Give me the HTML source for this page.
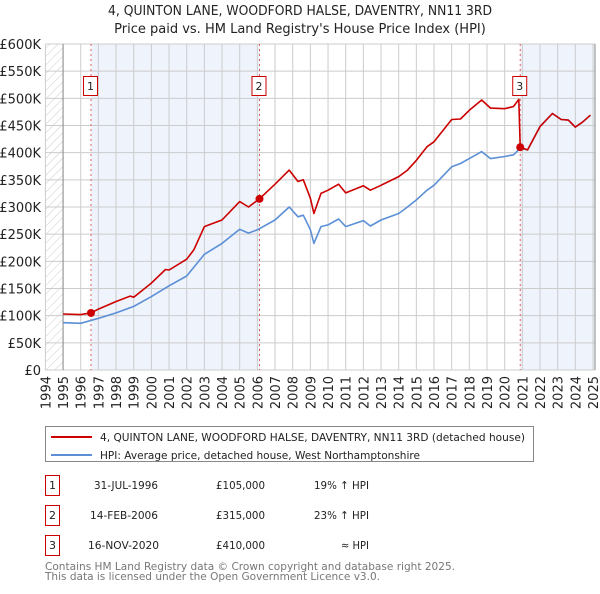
<!DOCTYPE html>
<html><head><meta charset="utf-8">
<style>
body{margin:0;background:#fff;font-family:"DejaVu Sans","Liberation Sans",sans-serif;}
svg text{font-family:"DejaVu Sans","Liberation Sans",sans-serif;}
</style></head>
<body>
<svg id="chart" width="600" height="590" xmlns="http://www.w3.org/2000/svg">
<defs>
<pattern id="hatch" patternUnits="userSpaceOnUse" width="6" height="6" patternTransform="rotate(45)">
<line x1="0" y1="0" x2="0" y2="6" stroke="#ccc" stroke-width="1"/>
</pattern>
</defs>
<text x="108" y="15" font-size="13" fill="#222" textLength="384" lengthAdjust="spacingAndGlyphs">4, QUINTON LANE, WOODFORD HALSE, DAVENTRY, NN11 3RD</text>
<text x="300" y="33" text-anchor="middle" font-size="13" fill="#222">Price paid vs. HM Land Registry's House Price Index (HPI)</text>
<g id="plot"></g>
<g>
<rect x="45.5" y="426.5" width="488" height="35" fill="#fff" stroke="#888"/>
<line x1="51" y1="437" x2="92" y2="437" stroke="#cc0000" stroke-width="2"/>
<text x="100" y="441" font-size="11" fill="#222" textLength="425" lengthAdjust="spacingAndGlyphs">4, QUINTON LANE, WOODFORD HALSE, DAVENTRY, NN11 3RD (detached house)</text>
<line x1="51" y1="455" x2="92" y2="455" stroke="#5b8fd6" stroke-width="2"/>
<text x="100" y="459" font-size="11" fill="#222" textLength="320" lengthAdjust="spacingAndGlyphs">HPI: Average price, detached house, West Northamptonshire</text>
</g>
<g font-size="11" fill="#222">
<rect x="45.5" y="475.5" width="14" height="20" fill="#fff" stroke="#cc0000"/><text x="52.5" y="489" text-anchor="middle">1</text>
<text x="94" y="489" textLength="64" lengthAdjust="spacingAndGlyphs">31-JUL-1996</text><text x="216" y="489" textLength="49" lengthAdjust="spacingAndGlyphs">£105,000</text><text x="314" y="489" textLength="55" lengthAdjust="spacingAndGlyphs">19% ↑ HPI</text>
<rect x="45.5" y="505.5" width="14" height="20" fill="#fff" stroke="#cc0000"/><text x="52.5" y="519" text-anchor="middle">2</text>
<text x="90" y="519" textLength="68" lengthAdjust="spacingAndGlyphs">14-FEB-2006</text><text x="216" y="519" textLength="49" lengthAdjust="spacingAndGlyphs">£315,000</text><text x="314" y="519" textLength="55" lengthAdjust="spacingAndGlyphs">23% ↑ HPI</text>
<rect x="45.5" y="535.5" width="14" height="20" fill="#fff" stroke="#cc0000"/><text x="52.5" y="549" text-anchor="middle">3</text>
<text x="88" y="549" textLength="71" lengthAdjust="spacingAndGlyphs">16-NOV-2020</text><text x="216" y="549" textLength="49" lengthAdjust="spacingAndGlyphs">£410,000</text><text x="341" y="549" textLength="28" lengthAdjust="spacingAndGlyphs">≈ HPI</text>
</g>
<text x="45" y="570" font-size="11" fill="#777" textLength="410" lengthAdjust="spacingAndGlyphs">Contains HM Land Registry data © Crown copyright and database right 2025.</text>
<text x="45" y="580" font-size="11" fill="#777" textLength="335" lengthAdjust="spacingAndGlyphs">This data is licensed under the Open Government Licence v3.0.</text>
</svg>
<script>
const hpiYears=[1995,1996,1997,1998,1999,2000,2001,2002,2003,2004,2005,2005.5,2006,2007,2007.8,2008.3,2008.6,2009,2009.2,2009.6,2010,2010.6,2011,2012,2012.4,2013,2014,2014.5,2015,2015.6,2016,2017,2017.5,2018,2018.7,2019.2,2020,2020.5,2020.88,2021.3,2022,2022.7,2023.2,2023.6,2024,2024.4,2024.85];
const hpiValues=[87,86,95,105,117,135,155,173,213,233,259,252,258,276,300,282,285,258,233,264,267,278,264,275,265,276,288,300,313,331,340,374,380,389,402,389,393,396,408,405,448,472,461,460,447,456,469];
const redYears=[1995,1996,1996.58,1997,1998,1998.8,1999,2000,2000.8,2001,2002,2002.4,2003,2003.5,2004,2005,2005.5,2006.12,2007,2007.8,2008.3,2008.6,2009,2009.2,2009.6,2010,2010.6,2011,2012,2012.4,2013,2014,2014.5,2015,2015.6,2016,2017,2017.5,2018,2018.7,2019.2,2020,2020.5,2020.8,2020.88,2021.3,2022,2022.7,2023.2,2023.6,2024,2024.4,2024.85];
const redValues=[103,102,105,112,126,136,134,160,185,184,204,221,264,270,276,310,300,315,342,368,347,350,316,288,325,331,342,326,339,331,340,356,368,386,411,420,461,462,478,497,482,481,485,498,410,405,448,472,461,460,447,456,469];
const saleYears=[1996.58,2006.12,2020.88];
const salePrices=[105,315,410];
const saleLabels=["1","2","3"];
const yTicks=[0,50,100,150,200,250,300,350,400,450,500,550,600];
const yTickLabels=["£0","£50K","£100K","£150K","£200K","£250K","£300K","£350K","£400K","£450K","£500K","£550K","£600K"];
const xTicks=[1994,1995,1996,1997,1998,1999,2000,2001,2002,2003,2004,2005,2006,2007,2008,2009,2010,2011,2012,2013,2014,2015,2016,2017,2018,2019,2020,2021,2022,2023,2024,2025];

const NS="http://www.w3.org/2000/svg";
const X0=45.4,X1=593,Y0=370,Y1=44;
const xs=y=>X0+(y-1994)/(2025-1994)*(X1-X0);
const ys=v=>Y0-(v/600)*(Y0-Y1);
const plot=document.getElementById('plot');
function mk(t,a,p){const e=document.createElementNS(NS,t);for(const k in a)e.setAttribute(k,a[k]);(p||plot).appendChild(e);return e;}

let r=mk('rect',{x:X0,y:Y1,width:595-X0,height:Y0-Y1,fill:'#fff'});


let h=mk('rect',{x:X0,y:Y1,width:xs(1995)-X0,height:Y0-Y1,fill:'url(#hatch)'});


let s1=mk('rect',{x:xs(saleYears[0]),y:Y1,width:xs(saleYears[1])-xs(saleYears[0]),height:Y0-Y1,fill:'#eef3fc'});


let s2=mk('rect',{x:xs(saleYears[2]),y:Y1,width:595-xs(saleYears[2]),height:Y0-Y1,fill:'#eef3fc'});



yTicks.forEach((v,i)=>{
 const l=mk('line',{x1:X0,x2:595,y1:ys(v),y2:ys(v),stroke:'#ccc','stroke-width':1});
 
 
 const t=mk('text',{x:41,y:ys(v)+5,'text-anchor':'end','font-size':13,fill:'#222'});
 t.textContent=yTickLabels[i];
 
 
});
xTicks.forEach(yr=>{
 const l=mk('line',{x1:xs(yr),x2:xs(yr),y1:Y1,y2:Y0,stroke:'#ccc','stroke-width':1});
 
 
 const t=mk('text',{x:0,y:0,'text-anchor':'end','font-size':13,fill:'#222',transform:`translate(${xs(yr)+5},${Y0+6}) rotate(-90)`});
 t.textContent=yr;
 
 
});
let ax=mk('line',{x1:xs(1995),x2:xs(1995),y1:Y1,y2:Y0,stroke:'#888'});


let ax2=mk('line',{x1:595,x2:595,y1:Y1,y2:Y0,stroke:'#888'});



saleYears.forEach((yr,i)=>{
 const l=mk('line',{x1:xs(yr),x2:xs(yr),y1:Y1,y2:Y0,stroke:'#e06060','stroke-width':1,'stroke-dasharray':'2,3'});
 
 
});

const pts=(ya,va)=>ya.map((y,i)=>xs(y).toFixed(1)+','+ys(va[i]).toFixed(1)).join(' ');
let hp=mk('polyline',{points:pts(hpiYears,hpiValues),fill:'none',stroke:'#5b8fd6','stroke-width':1.6,'stroke-linejoin':'round'});


let rp=mk('polyline',{points:pts(redYears,redValues),fill:'none',stroke:'#cc0000','stroke-width':1.6,'stroke-linejoin':'round'});



saleYears.forEach((yr,i)=>{
 const c=mk('circle',{cx:xs(yr),cy:ys(salePrices[i]),r:4,fill:'#cc0000'});
 
 
 const bx=xs(yr)-7;
 const b=mk('rect',{x:bx-0.5,y:76.5,width:14,height:19,fill:'#fff',stroke:'#cc0000'});
 
 
 const t=mk('text',{x:xs(yr)-0.5,y:90,'text-anchor':'middle','font-size':11,fill:'#222'});
 t.textContent=saleLabels[i];
 
 
});
</script>
</body></html>
